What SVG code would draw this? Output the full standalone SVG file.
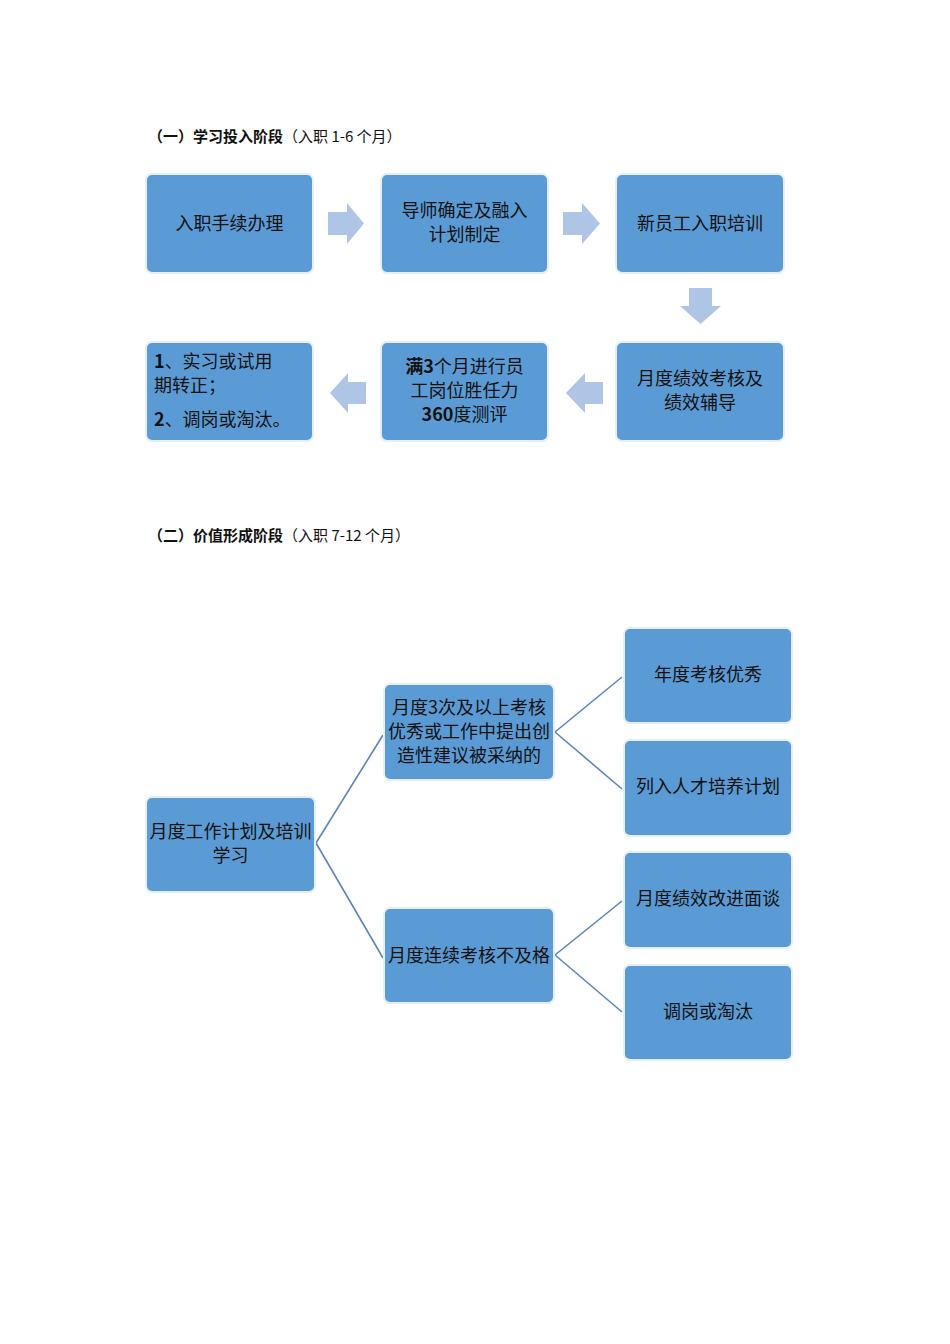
<svg xmlns="http://www.w3.org/2000/svg" width="950" height="1344" viewBox="0 0 950 1344">
<style>
.b{fill:#5b9bd5;stroke:#e6eef8;stroke-width:2}
.t{font-family:"Noto Sans CJK SC","Liberation Sans",sans-serif;font-size:18px;fill:#111;text-anchor:middle}
.tl{font-family:"Noto Sans CJK SC","Liberation Sans",sans-serif;font-size:18px;fill:#111}
.h{font-family:"Noto Sans CJK SC","Liberation Sans",sans-serif;font-size:15px;fill:#111}
.a{fill:#aec5e6}
.c{stroke:#5a86b8;stroke-width:1.6;fill:none}
</style>
<rect width="950" height="1344" fill="#fff"/>
<text class="h" x="148" y="142"><tspan font-weight="bold">（一）学习投入阶段</tspan>（入职 1-6 个月）</text>
<text class="h" x="148" y="541"><tspan font-weight="bold">（二）价值形成阶段</tspan>（入职 7-12 个月）</text>
<g id="n1"><rect class="b" x="146" y="174" width="167" height="99" rx="6"/><text class="t" x="229.5" y="230">入职手续办理</text></g>
<g id="n2"><rect class="b" x="381" y="174" width="167" height="99" rx="6"/><text class="t" x="464.5" y="217">导师确定及融入</text><text class="t" x="464.5" y="241">计划制定</text></g>
<g id="n3"><rect class="b" x="616" y="174" width="168" height="99" rx="6"/><text class="t" x="700" y="230">新员工入职培训</text></g>
<g id="n4"><rect class="b" x="616" y="342" width="168" height="99" rx="6"/><text class="t" x="700" y="385">月度绩效考核及</text><text class="t" x="700" y="409">绩效辅导</text></g>
<g id="n5"><rect class="b" x="381" y="342" width="167" height="99" rx="6"/><text class="t" x="464.5" y="373"><tspan font-weight="bold">满3</tspan>个月进行员</text><text class="t" x="464.5" y="397">工岗位胜任力</text><text class="t" x="464.5" y="421"><tspan font-weight="bold">360</tspan>度测评</text></g>
<g id="n6"><rect class="b" x="146" y="342" width="167" height="99" rx="6"/><text class="tl" x="154" y="368"><tspan font-weight="bold">1</tspan>、实习或试用</text><text class="tl" x="154" y="392">期转正；</text><text class="tl" x="154" y="426"><tspan font-weight="bold">2</tspan>、调岗或淘汰。</text></g>
<g id="connectors">
<polygon class="a" points="328,212 347,212 347,203 364,223.5 347,244 347,235 328,235"/>
<polygon class="a" points="563,212 582,212 582,203 600,223.5 582,244 582,235 563,235"/>
<polygon class="a" points="689,288 712,288 712,306 721,306 700.5,324 680,306 689,306"/>
<polygon class="a" points="366,382 348,382 348,373 330,393 348,413 348,404 366,404"/>
<polygon class="a" points="603,382 585,382 585,373 566,393 585,413 585,404 603,404"/>
<path class="c" d="M316,843 L383,735 M316,843 L383,958 M555,732 L622,677 M555,732 L622,789 M555,955 L622,901 M555,955 L622,1012"/>
</g>
<g id="m0"><rect class="b" x="146" y="797" width="169" height="95" rx="6"/><text class="t" x="230.5" y="838">月度工作计划及培训</text><text class="t" x="230.5" y="862">学习</text></g>
<g id="m1"><rect class="b" x="384" y="684" width="170" height="96" rx="6"/><text class="t" x="469" y="714">月度3次及以上考核</text><text class="t" x="469" y="738">优秀或工作中提出创</text><text class="t" x="469" y="762">造性建议被采纳的</text></g>
<g id="m2"><rect class="b" x="384" y="908" width="170" height="95" rx="6"/><text class="t" x="469" y="962">月度连续考核不及格</text></g>
<g id="l1"><rect class="b" x="624" y="628" width="168" height="95" rx="6"/><text class="t" x="708" y="681">年度考核优秀</text></g>
<g id="l2"><rect class="b" x="624" y="740" width="168" height="96" rx="6"/><text class="t" x="708" y="793">列入人才培养计划</text></g>
<g id="l3"><rect class="b" x="624" y="852" width="168" height="96" rx="6"/><text class="t" x="708" y="905">月度绩效改进面谈</text></g>
<g id="l4"><rect class="b" x="624" y="965" width="168" height="95" rx="6"/><text class="t" x="708" y="1018">调岗或淘汰</text></g>
</svg>
